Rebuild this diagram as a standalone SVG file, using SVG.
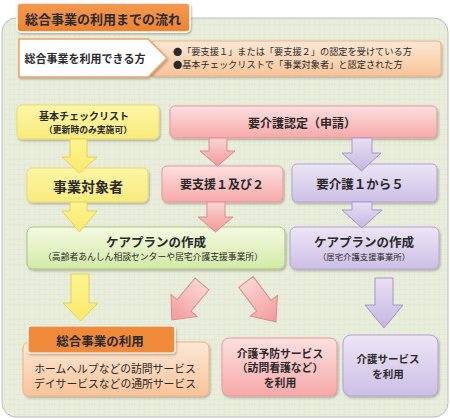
<svg xmlns="http://www.w3.org/2000/svg" width="450" height="419" viewBox="0 0 450 419">
<defs>
<style>
text{font-family:"Noto Sans CJK JP","Noto Sans",sans-serif;fill:#2a2a2a;text-anchor:middle;dominant-baseline:central}
.b{font-weight:bold}
.l{text-anchor:start}
.yel{fill:url(#gY);stroke:#eedc6a;stroke-width:1}
.pnk{fill:url(#gP);stroke:#e79a9a;stroke-width:1}
.pur{fill:url(#gV);stroke:#b4a4d4;stroke-width:1}
.grn{fill:url(#gG);stroke:#a9c77c;stroke-width:1}
.ora{fill:url(#gO);stroke:#f2b27e;stroke-width:1}
.ay{fill:url(#aY);stroke:#e6cf5c;stroke-width:1}
.ap{fill:url(#aP);stroke:#e08b8b;stroke-width:1}
.av{fill:url(#aV);stroke:#a895cc;stroke-width:1}
.sh{filter:url(#ds)}
</style>
<linearGradient id="gY" x1="0" y1="0" x2="0" y2="1"><stop offset="0" stop-color="#fdf6a6"/><stop offset="1" stop-color="#f8eb7c"/></linearGradient>
<linearGradient id="gP" x1="0" y1="0" x2="0" y2="1"><stop offset="0" stop-color="#fde0e0"/><stop offset="1" stop-color="#f7a9a9"/></linearGradient>
<linearGradient id="gV" x1="0" y1="0" x2="0" y2="1"><stop offset="0" stop-color="#ece6f6"/><stop offset="1" stop-color="#cdbfe6"/></linearGradient>
<linearGradient id="gG" x1="0" y1="0" x2="0" y2="1"><stop offset="0" stop-color="#f4fae2"/><stop offset="1" stop-color="#d3eaa6"/></linearGradient>
<linearGradient id="gO" x1="0" y1="0" x2="0" y2="1"><stop offset="0" stop-color="#fde8d5"/><stop offset="1" stop-color="#f9c49a"/></linearGradient>
<linearGradient id="gT" x1="0" y1="0" x2="0" y2="1"><stop offset="0" stop-color="#f49a52"/><stop offset="1" stop-color="#ec832f"/></linearGradient>
<linearGradient id="aY" x1="0" y1="0" x2="0" y2="1"><stop offset="0" stop-color="#fdf490"/><stop offset="1" stop-color="#faea6a"/></linearGradient>
<linearGradient id="aP" x1="0" y1="0" x2="0" y2="1"><stop offset="0" stop-color="#fcd4d4"/><stop offset="1" stop-color="#f29a9a"/></linearGradient>
<linearGradient id="aV" x1="0" y1="0" x2="0" y2="1"><stop offset="0" stop-color="#e8e0f4"/><stop offset="1" stop-color="#c6b6e2"/></linearGradient>
<pattern id="grid" width="5" height="5" patternUnits="userSpaceOnUse"><rect width="5" height="5" fill="#e9eedc"/><path d="M5 0V5M0 5H5" stroke="#e1e7d2" stroke-width="1"/></pattern>
<filter id="ds" x="-10%" y="-20%" width="120%" height="150%"><feDropShadow dx="1" dy="1.5" stdDeviation="1.2" flood-color="#000" flood-opacity="0.28"/></filter>
<path id="darr" d="M-9,0 L9,0 L9,28 L17,28 L0,47 L-17,28 L-9,28 Z"/>
</defs>

<g id="panel">
<rect x="2" y="18" width="446" height="399" rx="14" fill="url(#grid)" stroke="#bdbdbd" stroke-width="1"/>
</g>

<g id="title">
<rect class="sh" x="17" y="3" width="173" height="29" rx="4" fill="url(#gT)" stroke="#fff" stroke-width="1.5"/>
<text class="b" x="103" y="18" font-size="13">総合事業の利用までの流れ</text>
</g>

<g id="eligible">
<rect class="sh" x="150" y="41" width="291" height="35" rx="4" fill="url(#gO)" stroke="#f2b27e"/>
<text class="l" x="173" y="51" font-size="9.2">●「要支援１」または「要支援２」の認定を受けている方</text>
<text class="l" x="173" y="64" font-size="9.2">●基本チェックリストで「事業対象者」と認定された方</text>
</g>

<g id="who">
<polygon class="sh" points="19,39 148,39 167,58 148,77 19,77" fill="#fff" stroke="#f0a262" stroke-width="1.5"/>
<text x="85" y="58" font-size="11" font-weight="600">総合事業を利用できる方</text>
</g>

<g id="checklist">
<rect class="yel sh" x="17" y="105" width="142" height="34" rx="5"/>
<text class="b" x="84" y="115.5" font-size="10">基本チェックリスト</text>
<text class="b" x="88" y="129.5" font-size="8.8">（更新時のみ実施可）</text>
</g>

<g id="nintei">
<rect class="pnk sh" x="170" y="106" width="267" height="32" rx="5"/>
<text class="b" x="302" y="122" font-size="12">要介護認定（申請）</text>
</g>

<g id="taisho">
<rect class="yel sh" x="27" y="168" width="121" height="34" rx="5"/>
<text class="b" x="88" y="186" font-size="14">事業対象者</text>
</g>

<g id="yoshien">
<rect class="pnk sh" x="162" y="166" width="121" height="36" rx="5"/>
<text class="b" x="222" y="183" font-size="12">要支援１及び２</text>
</g>

<g id="yokaigo">
<rect class="pur sh" x="292" y="164" width="145" height="38" rx="5"/>
<text class="b" x="360" y="183" font-size="12.5">要介護１から５</text>
</g>

<g id="careplan1">
<rect class="grn sh" x="27" y="227" width="258" height="42" rx="6"/>
<text class="b" x="156" y="241" font-size="12.5">ケアプランの作成</text>
<text x="153" y="256" font-size="8.8">（高齢者あんしん相談センターや居宅介護支援事業所）</text>
</g>

<g id="careplan2">
<rect class="pur sh" x="290" y="227" width="149" height="42" rx="6"/>
<text class="b" x="364" y="241" font-size="12.5">ケアプランの作成</text>
<text x="364" y="256" font-size="8.4">（居宅介護支援事業所）</text>
</g>

<g id="sogo">
<rect class="ora sh" x="23" y="342" width="186" height="54" rx="6"/>
<rect class="sh" x="28" y="326" width="147" height="27" rx="3" fill="#f08a3a" stroke="#fff" stroke-width="1.2"/>
<text class="b" x="100" y="340" font-size="12.5">総合事業の利用</text>
<text x="115" y="368" font-size="10.8">ホームヘルプなどの訪問サービス</text>
<text x="115" y="382.5" font-size="10.8">デイサービスなどの通所サービス</text>
</g>

<g id="yobo">
<rect class="pnk sh" x="222" y="338" width="115" height="58" rx="7"/>
<text class="b" x="280" y="352.5" font-size="10.8">介護予防サービス</text>
<text class="b" x="280" y="367" font-size="10.8">（訪問看護など）</text>
<text class="b" x="280" y="381.5" font-size="10.8">を利用</text>
</g>

<g id="kaigo">
<rect class="pur sh" x="343" y="335" width="95" height="61" rx="8"/>
<text class="b" x="388" y="358" font-size="10.5">介護サービス</text>
<text class="b" x="388" y="373" font-size="10.5">を利用</text>
</g>

<g id="connectors">
<polygon class="ay" points="70,139 87,139 87,157 97,157 79.5,173 62,157 70,157"/>
<polygon class="ay" points="70,202 87,202 87,211 97,211 79.5,232 62,211 70,211"/>
<polygon class="ay" points="71,274 89,274 89,303 98,303 80.5,321 63,303 71,303"/>
<polygon class="ap" points="209,138 227,138 227,151 235,151 217.5,166 200,151 209,151"/>
<polygon class="ap" points="207,202 225,202 225,217 233,217 215.5,232 198,217 207,217"/>
<polygon class="av" points="352,138 372,138 372,153 381,153 361.5,171 342,153 352,153"/>
<polygon class="av" points="352,202 372,202 372,210 382,210 362,228 342,210 352,210"/>
<polygon class="av" points="375,278 393,278 393,305 403,305 384,328 365,305 375,305"/>
<use href="#darr" class="ap" transform="translate(202,284) rotate(40)"/>
<use href="#darr" class="ap" transform="translate(246,282) rotate(-37) scale(1,1.06)"/>
</g>
</svg>
